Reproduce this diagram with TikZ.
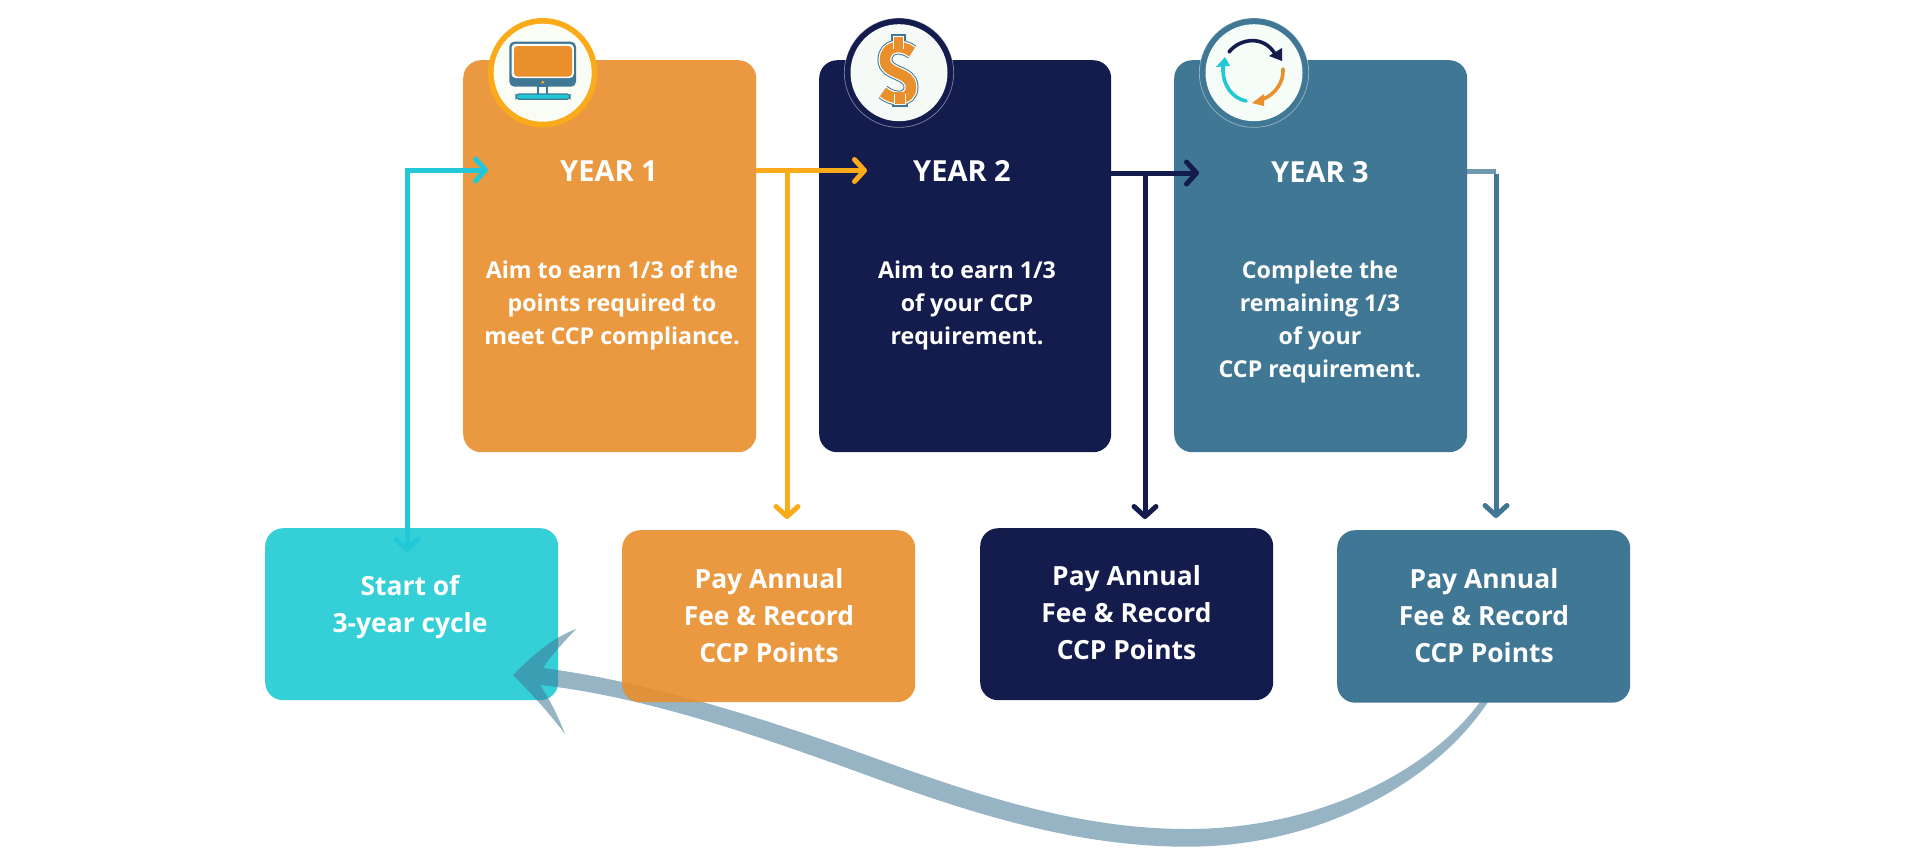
\documentclass[tikz,border=0pt]{standalone}
\usepackage{fontspec}
\setmainfont{Open Sans}
\usetikzlibrary{arrows.meta}
\definecolor{cOrange}{HTML}{E98F2C}
\definecolor{cRing}{HTML}{FBAA1A}
\definecolor{cNavy}{HTML}{141C4E}
\definecolor{cTeal}{HTML}{407794}
\definecolor{cCyanBox}{HTML}{35CFD7}
\definecolor{cCyan}{HTML}{22C8D6}
\definecolor{cPaper}{HTML}{FAFFFB}
\tikzset{
  x=1pt,y=-1pt,
  box/.style={rectangle,rounded corners=18pt,inner sep=0pt,anchor=north west,minimum width=#1},
  body/.style={text=white,font=\bfseries\fontsize{23.2}{33}\selectfont,align=center,inner sep=0pt},
  low/.style={text=white,font=\bfseries\fontsize{26.4}{37}\selectfont,align=center,inner sep=0pt},
  head/.style={text=white,font=\bfseries\fontsize{29}{34}\selectfont,inner sep=0pt},
  conn/.style={line width=5pt,-{Straight Barb[length=10pt,width=22pt,round]}},
  connboth/.style={line width=5pt,{Straight Barb[length=10pt,width=22pt,round]}-{Straight Barb[length=10pt,width=22pt,round]}},
  ring/.style={circle,inner sep=0pt,minimum size=109.4pt},
  dish/.style={circle,inner sep=0pt,minimum size=98pt,fill=cPaper,fill opacity=.98},
  rim/.style={circle,inner sep=0pt,minimum size=109.4pt,draw=white,draw opacity=.45,line width=.7pt},
}
\begin{document}
\begin{tikzpicture}
\useasboundingbox (0,0) rectangle (1920,855);
\fill[white] (0,0) rectangle (1920,855);
% start box and sweeping return arrow
\node[box=293pt,minimum height=172pt,fill=cCyanBox] (start) at (265,528) {};
\fill[cTeal,fill opacity=.55]
  (1480,702) .. controls (1430,770) and (1320,829) .. (1187,829)
  .. controls (1080,829) and (980,796) .. (880,760)
  .. controls (770,720) and (650,682) .. (543,668)
  .. controls (552,654) and (564,642) .. (576,629)
  .. controls (552,638) and (532,656) .. (513,675)
  .. controls (532,694) and (550,714) .. (565,734)
  .. controls (558,716) and (550,700) .. (540,685)
  .. controls (650,697) and (770,740) .. (880,780)
  .. controls (980,816) and (1080,846.7) .. (1187,846.7)
  .. controls (1320,846.7) and (1435,782) .. (1488,702)
  -- cycle;
% boxes
\node[box=293pt,minimum height=392pt,fill=cOrange,fill opacity=.9] (y1) at (463,60) {};
\node[box=292pt,minimum height=392pt,fill=cNavy] (y2) at (819,60) {};
\node[box=293pt,minimum height=392pt,fill=cTeal] (y3) at (1174,60) {};
\node[box=293pt,minimum height=172pt,fill=cOrange,fill opacity=.9] (p1) at (622,530) {};
\node[box=293pt,minimum height=172pt,fill=cNavy] (p2) at (980,528) {};
\node[box=293pt,minimum height=172.5pt,fill=cTeal] (p3) at (1337,530) {};
% connector ends
\coordinate (cyanA) at (407,552);
\coordinate (cyanB) at (488,170);
\coordinate (orA) at (756,170.5);
\coordinate (orB) at (867,170.5);
\coordinate (orC) at (787,170.5);
\coordinate (orD) at (787,519);
\coordinate (naA) at (1111,173);
\coordinate (naB) at (1199,173);
\coordinate (naC) at (1145,173);
\coordinate (naD) at (1145,519);
\coordinate (teA) at (1467,171);
\coordinate (teB) at (1496,171);
\coordinate (teC) at (1496,518);
% connectors
\draw[connboth,cCyan] (cyanA) |- (cyanB);
\draw[conn,cRing] (orA) -- (orB);
\draw[conn,cRing] (orC) -- (orD);
\draw[conn,cNavy] (naA) -- (naB);
\draw[conn,cNavy] (naC) -- (naD);
\draw[cTeal,line width=5pt,draw opacity=.75] (teA) -- (teB);
\draw[conn,cTeal] ([yshift=-2.5pt]teB) -- (teC);
% badges
\node[ring,fill=cRing] (c1) at (542.7,72.7) {};
\node[dish] (d1) at (c1) {};
\node[ring,fill=cNavy] (c2) at (899,72.7) {};
\node[rim] (r2) at (c2) {};
\node[dish,minimum size=97pt] (d2) at (c2) {};
\node[ring,fill=cTeal] (c3) at (1254,72.7) {};
\node[rim] (r3) at (c3) {};
\node[dish,minimum size=97pt] (d3) at (c3) {};
% monitor icon
\fill[cTeal,rounded corners=5pt] (509.3,41.7) rectangle (576,86.7);
\fill[cPaper,rounded corners=4pt] (511.5,43.8) rectangle (573.8,78);
\fill[cOrange,rounded corners=3.5pt] (514,46) rectangle (572,76.5);
\fill[cRing] (542.7,82.3) circle (1.6);
\draw[cTeal,line width=1.2pt,fill=cPaper] (538,86.7) rectangle (547,94.5);
\draw[cTeal,line width=1.2pt,fill=cCyan,rounded corners=3pt] (516,99.2) -- (516,94) -- (570,94) -- (570,99.2) -- cycle;
% dollar icon
\def\dollarS{(912,52) .. controls (902,44) and (885,45) .. (885,60) .. controls (885,75) and (911,71) .. (911,87) .. controls (911,102) and (892,100) .. (883,92)}
\fill[cTeal] (890.5,34) -- (906,34) -- (906,49) -- (890.5,49) -- cycle;
\fill[cTeal] (892,94) -- (907.5,94) -- (907.5,107) -- (892,107) -- cycle;
\foreach \col/\w in {cTeal/15,cPaper/13,cOrange/10.5}{
  \draw[\col,line width=\w pt] \dollarS;
}
\fill[cPaper] (892.5,36) rectangle (904,49);
\fill[cPaper] (894,94) rectangle (905.5,105);
\fill[cOrange] (893.5,37) rectangle (903,49);
\fill[cOrange] (895,92) rectangle (904.5,104);
% cycle icon
\draw[cNavy,line width=3.6pt,line cap=round] (1229,52) .. controls (1240,38) and (1264,35) .. (1275,54);
\fill[cNavy] (1282,61) -- (1269,56) -- (1282,48) -- cycle;
\draw[cOrange,line width=3.6pt,line cap=round] (1283,69) .. controls (1284,83) and (1274,95) .. (1263,99);
\fill[cOrange] (1252,103) -- (1264,94) -- (1264,106) -- cycle;
\draw[cCyan,line width=3.6pt,line cap=round] (1246,101) .. controls (1232,98) and (1222,85) .. (1223,66);
\fill[cCyan] (1225,57) -- (1216,67) -- (1230,66) -- cycle;
% text
\node[head] (t1) at (609,171) {YEAR 1};
\node[head] (t2) at (962,171) {YEAR 2};
\node[head] (t3) at (1320,172) {YEAR 3};
\node[body,anchor=north] (b1) at (612,261) {Aim to earn 1/3 of the\\points required to\\meet CCP compliance.};
\node[body,anchor=north] (b2) at (967,261) {Aim to earn 1/3\\of your CCP\\requirement.};
\node[body,anchor=north] (b3) at (1320,261) {Complete the\\remaining 1/3\\of your\\CCP requirement.};
\node[low] (s1) at (410,607) {Start of\\3-year cycle};
\node[low] (l1) at (769,616) {Pay Annual\\Fee \& Record\\CCP Points};
\node[low] (l2) at (1126.5,613) {Pay Annual\\Fee \& Record\\CCP Points};
\node[low] (l3) at (1484,616) {Pay Annual\\Fee \& Record\\CCP Points};
\end{tikzpicture}
\end{document}
